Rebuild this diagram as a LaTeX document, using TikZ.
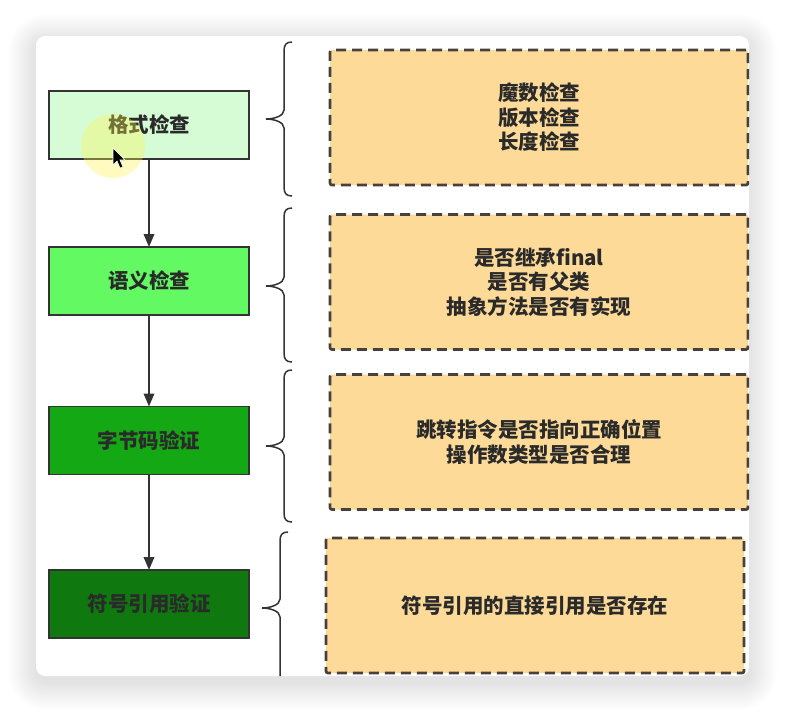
\documentclass[tikz,border=0pt]{standalone}
\usepackage{fontspec}
\newfontfamily\cjk{Noto Sans CJK SC}
\usetikzlibrary{arrows.meta}
\definecolor{peach}{HTML}{FDDA98}
\definecolor{gA}{HTML}{D6FCD6}
\definecolor{gB}{HTML}{62F962}
\definecolor{gC}{HTML}{15A815}
\definecolor{gD}{HTML}{0F790F}
\definecolor{linec}{HTML}{333333}
\definecolor{dashc}{HTML}{47413B}
\definecolor{txt}{HTML}{2A2A2A}
\tikzset{
  stage/.style={draw=linec, line width=1.8pt, minimum width=200pt, minimum height=68pt,
    inner sep=0pt, outer sep=0pt, text=txt, font=\cjk\bfseries\fontsize{20.5}{24}\selectfont},
  detail/.style={draw=dashc, fill=peach, line width=2.7pt, dash pattern=on 10pt off 6pt,
    rounded corners=2pt, minimum width=418pt, minimum height=135pt, inner sep=0pt,
    outer sep=0pt, align=center, text=txt, font=\cjk\bfseries\fontsize{20.5}{24.5}\selectfont},
  flow/.style={draw=linec, line width=1.8pt, -{Triangle[length=13pt,width=10.5pt]}},
  bracestyle/.style={draw=linec, line width=1.5pt},
}
\begin{document}
\begin{tikzpicture}[x=1pt,y=-1pt]
\useasboundingbox (0,0) rectangle (786,712);
\fill[white] (0,0) rectangle (786,712);
% soft shadow
\foreach \i in {1,...,28}{
  \fill[black, opacity=0.0055, rounded corners=\i pt+9pt] (36-\i,36-\i+6) rectangle (749+\i,676+\i+6);
}
\fill[white, rounded corners=9pt] (36,36) rectangle (749,676);
\begin{scope}
\clip[rounded corners=9pt] (36,36) rectangle (749,676);
% stages
\node[stage, fill=gA] (s1) at (149,125) {格式检查};
\node[stage, fill=gB] (s2) at (149,281) {语义检查};
\node[stage, fill=gC] (s3) at (149,440.5) {字节码验证};
\node[stage, fill=gD] (s4) at (149,604) {符号引用验证};
\draw[flow] (s1) -- (s2);
\draw[flow] (s2) -- (s3);
\draw[flow] (s3) -- (s4);
% braces
\foreach \xl/\t/\m/\b in {284/42/119/196, 284/208/286/362, 284/370/446/522, 280/532/608/684}{
  \draw[bracestyle] (\xl+8,\t) .. controls (\xl+2,\t) and (\xl,\t+3) .. (\xl,\t+9)
    -- (\xl,\m-9) .. controls (\xl,\m-3) and (\xl-10,\m) .. (\xl-18,\m)
    .. controls (\xl-10,\m) and (\xl,\m+3) .. (\xl,\m+9)
    -- (\xl,\b-9) .. controls (\xl,\b-3) and (\xl+2,\b) .. (\xl+8,\b);
}
% details
\node[detail] (d1) at (539,117.5) {魔数检查\\版本检查\\长度检查};
\node[detail] (d2) at (539,282) {是否继承final\\是否有父类\\抽象方法是否有实现};
\node[detail] (d3) at (539,442) {跳转指令是否指向正确位置\\操作数类型是否合理};
\node[detail] (d4) at (535,605.5) {符号引用的直接引用是否存在};
% cursor highlight
\fill[yellow!70!white, opacity=0.35] (113,146) circle (32);
\filldraw[fill=black, draw=white, line width=0.6pt] (113,148) -- (113,165) -- (117,161) -- (120,168) -- (123,167) -- (120,160) -- (125,160) -- cycle;
\end{scope}
\end{tikzpicture}
\end{document}
